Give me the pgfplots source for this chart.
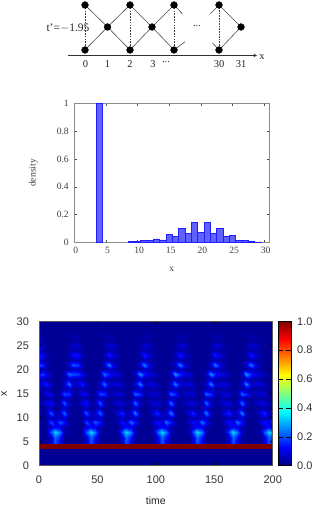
\documentclass[border=0pt]{standalone}
\usepackage{pgfplots}
\usepackage{fontspec}
\setmainfont{Liberation Serif}
\setsansfont{Liberation Sans}
\pgfplotsset{compat=1.18}
\definecolor{barfill}{rgb}{0.38,0.38,1}
\definecolor{baredge}{rgb}{0.12,0.12,1}
\definecolor{framegray}{gray}{0.55}
\definecolor{jetred}{rgb}{0.5,0,0}
\definecolor{jetbg}{rgb}{0,0,0.58}
\begin{document}
\begin{tikzpicture}[x=1bp,y=1bp]
\path[use as bounding box] (0,0) rectangle (332,510);
\begin{axis}[at={(0bp,430bp)},anchor=south west,scale only axis,width=332bp,height=80bp,
 xmin=0,xmax=332,ymin=0,ymax=80,y dir=reverse,hide axis,clip=false]
\addplot[gray!60!black,line width=.6bp] coordinates {(85,5)(107.5,27)(130,50)};
\addplot[gray!60!black,line width=.6bp] coordinates {(85,50)(107.5,27)(130,5)(152,27)(174,50)};
\addplot[gray!60!black,line width=.6bp] coordinates {(130,50)(152,27)(174,5)};
\addplot[gray!60!black,line width=.6bp] coordinates {(174,5)(182.5,14)};
\addplot[gray!60!black,line width=.6bp] coordinates {(174,50)(185,41.7)};
\addplot[gray!60!black,line width=.6bp] coordinates {(210,14)(219,5)(241,27)(219,50)(212.5,43)};
\addplot[black!75,dash pattern=on 1.6bp off 1.2bp,line width=.45bp] coordinates {(85,5)(85,50)};
\addplot[black!75,dash pattern=on 1.6bp off 1.2bp,line width=.45bp] coordinates {(130,5)(130,50)};
\addplot[black!75,dash pattern=on 1.6bp off 1.2bp,line width=.45bp] coordinates {(174,5)(174,50)};
\addplot[black!75,dash pattern=on 1.6bp off 1bp,line width=1bp] coordinates {(219,5)(219,50)};
\addplot[only marks,mark=*,mark size=3.4bp,black] coordinates {(85,5)(130,5)(174,5)(219,5)(107.5,27)(152,27)(241,27)(85,50)(130,50)(174,50)(219,50)};
\addplot[gray!40!black,line width=.6bp,-stealth] coordinates {(68,55.5)(257,55.5)};
\node[gray!30!black,font=\fontsize{11.5bp}{12bp}\selectfont] at (axis cs:68,27.7) {t'=$-$1.95};
\node[gray!30!black,font=\fontsize{10.5bp}{12bp}\selectfont] at (axis cs:197,26) {...};
\node[gray!30!black,font=\fontsize{10.5bp}{12bp}\selectfont] at (axis cs:166,62) {...};
\foreach \x/\l in {85.5/0,107.5/1,130/2,153/3,219/30,241/31}{
 \edef\temp{\noexpand\node[gray!30!black,font=\noexpand\fontsize{10.5bp}{12bp}\noexpand\selectfont] at (axis cs:\x,64) {\l};}\temp}
\node[gray!30!black,font=\fontsize{10.5bp}{12bp}\selectfont] at (axis cs:262,57) {x};
\end{axis}
\begin{axis}[at={(74.3bp,267.7bp)},anchor=south west,scale only axis,width=195bp,height=138.6bp,
 xmin=0,xmax=30.8,ymin=0,ymax=1,
 axis line style={framegray,line width=.8bp},
 tick style={gray!60!black,line width=.6bp},tick align=inside,major tick length=2.2bp,
 xtick={0,5,...,30},ytick={0,0.2,0.4,0.6,0.8,1},
 yticklabels={0,0.2,0.4,0.6,0.8,1},
 /pgf/number format/assume math mode=true,
 tick label style={font=\fontsize{9.6bp}{11bp}\selectfont,text=black!75},
 xlabel={x},ylabel={density},
 label style={font=\fontsize{9.6bp}{11bp}\selectfont,text=black!75},
 xlabel style={at={(axis description cs:0.5,0)},anchor=center,yshift=-27.5bp},
 ylabel style={at={(axis description cs:0,0.5)},anchor=center,xshift=0bp,yshift=41bp,rotate=0},
 xticklabel style={yshift=-1.5bp,xshift=1.5bp},
 yticklabel style={xshift=-2bp},
 ]
\addplot[ybar,bar width=6.33bp,fill=barfill,draw=baredge,line width=.6bp] coordinates {
(4,1)(9,.005)(10,.005)(11,.014)(12,.012)(13,.025)(14,.017)(15,.058)(16,.04)(17,.1)(18,.062)(19,.144)(20,.072)(21,.144)(22,.062)(23,.1)(24,.04)(25,.05)(26,.014)(27,.016)(28,.004)(29,.003)};
\end{axis}
\begin{axis}[at={(39bp,44.3bp)},anchor=south west,scale only axis,width=233.7bp,height=144.4bp,
 xmin=0,xmax=200,ymin=0,ymax=30,
 xtick={0,50,...,200},ytick={0,5,...,30},
 colormap/jet,point meta min=0,point meta max=1,
 axis background/.style={fill=jetbg},
 axis on top,
 tick align=inside,major tick length=2.5bp,tick style={black,line width=.5bp},
 axis line style={gray!70!black,line width=.5bp},
 /pgf/number format/assume math mode=true,
 tick label style={font=\sffamily\fontsize{11bp}{12bp}\selectfont,text=black!80},
 xticklabel style={yshift=-7bp},
 yticklabel style={xshift=-6.5bp},
 xlabel={time},ylabel={x},
 label style={font=\sffamily\fontsize{10.5bp}{12bp}\selectfont,text=black!85},
 xlabel style={at={(axis description cs:0.5,0)},anchor=center,yshift=-35bp},
 ylabel style={at={(axis description cs:0,0.5)},anchor=center,yshift=35bp},
 colorbar,colorbar style={at={(1.024,0)},anchor=south west,width=12.4bp,
 ytick={0,0.2,0.4,0.6,0.8,1},yticklabels={0.0,0.2,0.4,0.6,0.8,1.0},
 /pgf/number format/assume math mode=true,
 tick label style={font=\sffamily\fontsize{11bp}{12bp}\selectfont,text=black!80},
 yticklabel style={xshift=3bp}},
 ]
\addplot[surf,shader=interp,mesh/cols=56,mesh/ordering=x varies,point meta=\thisrow{v}] table[row sep=crcr,x expr={-1.2+3.8*mod(\coordindex,56)},y expr={4+floor(\coordindex/56)}] {
v\\
.02\\.02\\.02\\.07\\.21\\.11\\.02\\.02\\ .02\\.02\\.02\\.07\\.21\\.11\\.02\\.02\\ .02\\.02\\.02\\.07\\.21\\.11\\.02\\.02\\ .02\\.02\\.02\\.07\\.21\\.11\\.02\\.02\\ .02\\.02\\.02\\.07\\.21\\.11\\.02\\.02\\ .02\\.02\\.02\\.07\\.21\\.11\\.02\\.02\\ .02\\.02\\.02\\.07\\.21\\.11\\.02\\.02\\
.02\\.02\\.02\\.07\\.21\\.11\\.02\\.02\\ .02\\.02\\.02\\.07\\.21\\.11\\.02\\.02\\ .02\\.02\\.02\\.07\\.21\\.11\\.02\\.02\\ .02\\.02\\.02\\.07\\.21\\.11\\.02\\.02\\ .02\\.02\\.02\\.07\\.21\\.11\\.02\\.02\\ .02\\.02\\.02\\.07\\.21\\.11\\.02\\.02\\ .02\\.02\\.02\\.07\\.21\\.11\\.02\\.02\\
.02\\.02\\.02\\.09\\.23\\.14\\.02\\.02\\ .02\\.02\\.02\\.09\\.23\\.14\\.02\\.02\\ .02\\.02\\.02\\.09\\.23\\.14\\.02\\.02\\ .02\\.02\\.02\\.09\\.23\\.14\\.02\\.02\\ .02\\.02\\.02\\.09\\.23\\.14\\.02\\.02\\ .02\\.02\\.02\\.09\\.23\\.14\\.02\\.02\\ .02\\.02\\.02\\.09\\.23\\.14\\.02\\.02\\
.02\\.02\\.04\\.2\\.34\\.24\\.05\\.02\\ .02\\.02\\.04\\.2\\.34\\.24\\.05\\.02\\ .02\\.02\\.04\\.2\\.34\\.24\\.05\\.02\\ .02\\.02\\.04\\.2\\.34\\.24\\.05\\.02\\ .02\\.02\\.04\\.2\\.34\\.24\\.05\\.02\\ .02\\.02\\.04\\.2\\.34\\.24\\.05\\.02\\ .02\\.02\\.04\\.2\\.34\\.24\\.05\\.02\\
.02\\.02\\.02\\.07\\.12\\.1\\.04\\.02\\ .02\\.02\\.02\\.07\\.12\\.1\\.04\\.02\\ .02\\.02\\.02\\.07\\.12\\.1\\.04\\.02\\ .02\\.02\\.02\\.07\\.12\\.1\\.04\\.02\\ .02\\.02\\.02\\.07\\.12\\.1\\.04\\.02\\ .02\\.02\\.02\\.07\\.12\\.1\\.04\\.02\\ .02\\.02\\.02\\.07\\.12\\.1\\.04\\.02\\
.02\\.02\\.03\\.2\\.08\\.22\\.14\\.03\\ .02\\.02\\.03\\.2\\.08\\.22\\.14\\.03\\ .02\\.02\\.07\\.14\\.08\\.24\\.13\\.03\\ .02\\.02\\.07\\.14\\.08\\.24\\.13\\.03\\ .02\\.02\\.07\\.14\\.08\\.24\\.13\\.03\\ .02\\.02\\.07\\.14\\.08\\.24\\.13\\.03\\ .02\\.02\\.07\\.14\\.08\\.24\\.13\\.03\\
.02\\.02\\.02\\.06\\.04\\.06\\.07\\.02\\ .02\\.02\\.02\\.06\\.04\\.06\\.07\\.02\\ .02\\.02\\.03\\.05\\.04\\.06\\.07\\.02\\ .02\\.02\\.03\\.05\\.04\\.06\\.07\\.02\\ .02\\.02\\.03\\.05\\.04\\.06\\.07\\.02\\ .02\\.02\\.03\\.05\\.04\\.06\\.07\\.02\\ .02\\.02\\.03\\.05\\.04\\.06\\.07\\.02\\
.02\\.02\\.06\\.22\\.05\\.08\\.23\\.05\\ .02\\.02\\.06\\.22\\.05\\.08\\.23\\.05\\ .02\\.03\\.1\\.17\\.05\\.08\\.26\\.05\\ .02\\.03\\.1\\.17\\.05\\.08\\.26\\.05\\ .02\\.03\\.1\\.17\\.05\\.08\\.26\\.05\\ .02\\.03\\.1\\.17\\.05\\.08\\.26\\.05\\ .02\\.03\\.1\\.17\\.05\\.08\\.26\\.05\\
.02\\.02\\.03\\.05\\.02\\.03\\.07\\.02\\ .02\\.02\\.03\\.05\\.02\\.03\\.07\\.02\\ .02\\.02\\.03\\.04\\.02\\.03\\.07\\.02\\ .02\\.02\\.03\\.04\\.02\\.03\\.07\\.02\\ .02\\.02\\.03\\.04\\.02\\.03\\.07\\.02\\ .02\\.02\\.03\\.04\\.02\\.03\\.07\\.02\\ .02\\.02\\.03\\.04\\.02\\.03\\.07\\.02\\
.02\\.04\\.1\\.14\\.04\\.04\\.22\\.06\\ .02\\.04\\.1\\.14\\.04\\.04\\.22\\.06\\ .02\\.06\\.09\\.09\\.04\\.05\\.24\\.06\\ .02\\.06\\.09\\.09\\.04\\.05\\.24\\.06\\ .02\\.06\\.09\\.09\\.04\\.05\\.24\\.06\\ .02\\.06\\.09\\.09\\.04\\.05\\.24\\.06\\ .02\\.06\\.09\\.09\\.04\\.05\\.24\\.06\\
.02\\.02\\.03\\.04\\.02\\.02\\.06\\.04\\ .02\\.02\\.03\\.04\\.02\\.02\\.06\\.04\\ .02\\.03\\.03\\.03\\.02\\.02\\.06\\.04\\ .02\\.03\\.03\\.03\\.02\\.02\\.06\\.04\\ .02\\.03\\.03\\.03\\.02\\.02\\.06\\.04\\ .02\\.03\\.03\\.03\\.02\\.02\\.06\\.04\\ .02\\.03\\.03\\.03\\.02\\.02\\.06\\.04\\
.03\\.04\\.12\\.1\\.03\\.03\\.2\\.18\\ .03\\.04\\.12\\.1\\.03\\.03\\.2\\.18\\ .04\\.07\\.09\\.08\\.03\\.03\\.23\\.17\\ .04\\.07\\.09\\.08\\.03\\.03\\.23\\.17\\ .04\\.07\\.09\\.08\\.03\\.03\\.23\\.17\\ .04\\.07\\.09\\.08\\.03\\.03\\.23\\.17\\ .04\\.07\\.09\\.08\\.03\\.03\\.23\\.17\\
.03\\.03\\.04\\.03\\.02\\.02\\.05\\.06\\ .03\\.03\\.04\\.03\\.02\\.02\\.05\\.06\\ .03\\.03\\.03\\.03\\.02\\.02\\.05\\.06\\ .03\\.03\\.03\\.03\\.02\\.02\\.05\\.06\\ .03\\.03\\.03\\.03\\.02\\.02\\.05\\.06\\ .03\\.03\\.03\\.03\\.02\\.02\\.05\\.06\\ .03\\.03\\.03\\.03\\.02\\.02\\.05\\.06\\
.06\\.09\\.16\\.05\\.02\\.02\\.08\\.24\\ .06\\.09\\.16\\.05\\.02\\.02\\.08\\.24\\ .07\\.09\\.1\\.06\\.02\\.02\\.08\\.26\\ .07\\.09\\.1\\.06\\.02\\.02\\.08\\.26\\ .07\\.09\\.1\\.06\\.02\\.02\\.08\\.26\\ .07\\.09\\.1\\.06\\.02\\.02\\.08\\.26\\ .07\\.09\\.1\\.06\\.02\\.02\\.08\\.26\\
.05\\.05\\.04\\.02\\.02\\.02\\.03\\.07\\ .05\\.05\\.04\\.02\\.02\\.02\\.03\\.07\\ .04\\.03\\.03\\.02\\.02\\.02\\.03\\.07\\ .04\\.03\\.03\\.02\\.02\\.02\\.03\\.07\\ .04\\.03\\.03\\.02\\.02\\.02\\.03\\.07\\ .04\\.03\\.03\\.02\\.02\\.02\\.03\\.07\\ .04\\.03\\.03\\.02\\.02\\.02\\.03\\.07\\
.2\\.19\\.12\\.04\\.02\\.02\\.06\\.24\\ .2\\.19\\.12\\.04\\.02\\.02\\.06\\.24\\ .15\\.1\\.09\\.04\\.02\\.02\\.07\\.28\\ .15\\.1\\.09\\.04\\.02\\.02\\.07\\.28\\ .15\\.1\\.09\\.04\\.02\\.02\\.07\\.28\\ .15\\.1\\.09\\.04\\.02\\.02\\.07\\.28\\ .15\\.1\\.09\\.04\\.02\\.02\\.07\\.28\\
.06\\.05\\.03\\.02\\.02\\.02\\.02\\.03\\ .06\\.05\\.03\\.02\\.02\\.02\\.02\\.03\\ .06\\.04\\.03\\.02\\.02\\.02\\.02\\.03\\ .06\\.04\\.03\\.02\\.02\\.02\\.02\\.03\\ .06\\.04\\.03\\.02\\.02\\.02\\.02\\.03\\ .06\\.04\\.03\\.02\\.02\\.02\\.02\\.03\\ .06\\.04\\.03\\.02\\.02\\.02\\.02\\.03\\
.22\\.18\\.07\\.02\\.02\\.02\\.02\\.09\\ .22\\.18\\.07\\.02\\.02\\.02\\.02\\.09\\ .26\\.11\\.05\\.02\\.02\\.02\\.03\\.09\\ .26\\.11\\.05\\.02\\.02\\.02\\.03\\.09\\ .26\\.11\\.05\\.02\\.02\\.02\\.03\\.09\\ .26\\.11\\.05\\.02\\.02\\.02\\.03\\.09\\ .26\\.11\\.05\\.02\\.02\\.02\\.03\\.09\\
.05\\.05\\.03\\.02\\.02\\.02\\.02\\.03\\ .05\\.05\\.03\\.02\\.02\\.02\\.02\\.03\\ .05\\.03\\.03\\.02\\.02\\.02\\.02\\.03\\ .05\\.03\\.03\\.02\\.02\\.02\\.02\\.03\\ .05\\.03\\.03\\.02\\.02\\.02\\.02\\.03\\ .05\\.03\\.03\\.02\\.02\\.02\\.02\\.03\\ .05\\.03\\.03\\.02\\.02\\.02\\.02\\.03\\
.15\\.14\\.05\\.02\\.02\\.02\\.02\\.05\\ .15\\.14\\.05\\.02\\.02\\.02\\.02\\.05\\ .16\\.09\\.04\\.02\\.02\\.02\\.02\\.05\\ .16\\.09\\.04\\.02\\.02\\.02\\.02\\.05\\ .16\\.09\\.04\\.02\\.02\\.02\\.02\\.05\\ .16\\.09\\.04\\.02\\.02\\.02\\.02\\.05\\ .16\\.09\\.04\\.02\\.02\\.02\\.02\\.05\\
.04\\.04\\.03\\.02\\.02\\.02\\.02\\.03\\ .04\\.04\\.03\\.02\\.02\\.02\\.02\\.03\\ .04\\.04\\.03\\.02\\.02\\.02\\.02\\.03\\ .04\\.04\\.03\\.02\\.02\\.02\\.02\\.03\\ .04\\.04\\.03\\.02\\.02\\.02\\.02\\.03\\ .04\\.04\\.03\\.02\\.02\\.02\\.02\\.03\\ .04\\.04\\.03\\.02\\.02\\.02\\.02\\.03\\
.09\\.08\\.03\\.02\\.02\\.02\\.02\\.04\\ .09\\.08\\.03\\.02\\.02\\.02\\.02\\.04\\ .09\\.08\\.03\\.02\\.02\\.02\\.02\\.04\\ .09\\.08\\.03\\.02\\.02\\.02\\.02\\.04\\ .09\\.08\\.03\\.02\\.02\\.02\\.02\\.04\\ .09\\.08\\.03\\.02\\.02\\.02\\.02\\.04\\ .09\\.08\\.03\\.02\\.02\\.02\\.02\\.04\\
.03\\.03\\.02\\.02\\.02\\.02\\.02\\.02\\ .03\\.03\\.02\\.02\\.02\\.02\\.02\\.02\\ .03\\.03\\.02\\.02\\.02\\.02\\.02\\.02\\ .03\\.03\\.02\\.02\\.02\\.02\\.02\\.02\\ .03\\.03\\.02\\.02\\.02\\.02\\.02\\.02\\ .03\\.03\\.02\\.02\\.02\\.02\\.02\\.02\\ .03\\.03\\.02\\.02\\.02\\.02\\.02\\.02\\
.04\\.04\\.02\\.02\\.02\\.02\\.02\\.03\\ .04\\.04\\.02\\.02\\.02\\.02\\.02\\.03\\ .04\\.04\\.02\\.02\\.02\\.02\\.02\\.03\\ .04\\.04\\.02\\.02\\.02\\.02\\.02\\.03\\ .04\\.04\\.02\\.02\\.02\\.02\\.02\\.03\\ .04\\.04\\.02\\.02\\.02\\.02\\.02\\.03\\ .04\\.04\\.02\\.02\\.02\\.02\\.02\\.03\\
.02\\.02\\.02\\.02\\.02\\.02\\.02\\.02\\ .02\\.02\\.02\\.02\\.02\\.02\\.02\\.02\\ .02\\.02\\.02\\.02\\.02\\.02\\.02\\.02\\ .02\\.02\\.02\\.02\\.02\\.02\\.02\\.02\\ .02\\.02\\.02\\.02\\.02\\.02\\.02\\.02\\ .02\\.02\\.02\\.02\\.02\\.02\\.02\\.02\\ .02\\.02\\.02\\.02\\.02\\.02\\.02\\.02\\
};
\addplot[fill=jetred,draw=none] coordinates {(0,3.5)(200,3.5)(200,4.5)(0,4.5)};
\end{axis}
\end{tikzpicture}
\end{document}
